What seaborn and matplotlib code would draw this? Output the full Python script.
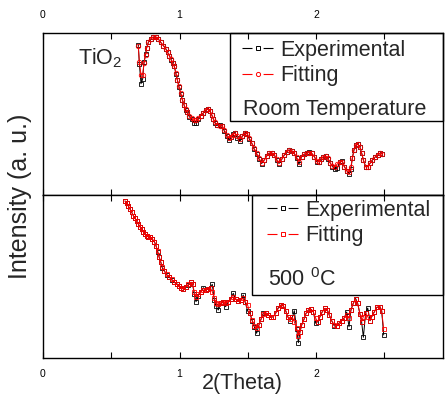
import matplotlib
matplotlib.use("Agg")
import matplotlib.pyplot as plt
import seaborn as sns
from matplotlib.patches import Rectangle
from matplotlib.lines import Line2D

# data (intensity in arbitrary units)
rt_x = [0.698, 0.706, 0.718, 0.730, 0.740, 0.752, 0.759, 0.772, 0.789, 0.808,
        0.828, 0.845, 0.862, 0.882, 0.899, 0.913, 0.926, 0.938, 0.950, 0.962,
        0.974, 0.984, 0.996, 1.009, 1.021, 1.033, 1.045, 1.057, 1.072, 1.089,
        1.106, 1.121, 1.138, 1.155, 1.175, 1.194, 1.211, 1.223, 1.236, 1.248,
        1.260, 1.277, 1.297, 1.314, 1.328, 1.346, 1.363, 1.375, 1.389, 1.407,
        1.424, 1.443, 1.460, 1.480, 1.497, 1.511, 1.529, 1.546,
        1.565, 1.582, 1.602, 1.621, 1.639, 1.656, 1.675, 1.695, 1.712, 1.729,
        1.749, 1.768, 1.785, 1.802, 1.822, 1.841, 1.858, 1.875, 1.895, 1.914,
        1.931, 1.949, 1.968, 1.988, 2.005, 2.022, 2.037, 2.054, 2.071, 2.086,
        2.103, 2.120, 2.139, 2.156, 2.176, 2.193, 2.208, 2.225, 2.242, 2.256,
        2.266, 2.278, 2.291, 2.305, 2.322, 2.335, 2.347, 2.364, 2.379, 2.396,
        2.413, 2.432, 2.452, 2.469, 2.486]

rt_fit = [148.7, 132.7, 120.3, 120.3, 132.0, 140.3, 147.0, 152.7, 156.0, 158.0,
          158.0, 156.0, 152.7, 149.3, 146.0, 142.7, 139.3, 136.0, 132.0, 128.7,
          122.0, 115.3, 108.7, 102.0, 95.3, 90.3, 86.0, 82.7, 79.3, 77.0,
          74.7, 74.7, 77.0, 79.3, 82.0, 85.3, 86.0, 84.3, 80.3, 76.0,
          72.7, 70.3, 69.3, 68.7, 65.3, 60.3, 57.0, 58.0, 60.3, 62.0,
          58.7, 56.0, 58.7, 62.0, 61.0, 57.0, 52.0, 47.0,
          41.7, 36.7, 32.3, 35.0, 39.0, 41.7, 42.3, 40.0, 35.7, 32.3,
          35.7, 40.0, 43.3, 45.0, 44.3, 41.7, 37.7, 33.3, 38.3, 40.7,
          41.7, 42.3, 41.7, 38.3, 34.3, 33.3, 35.7, 38.3, 39.0, 36.7,
          32.3, 29.0, 28.3, 31.0, 33.3, 33.3, 28.3, 24.3, 23.3, 28.3,
          36.7, 45.0, 50.0, 51.0, 47.7, 41.7, 35.0, 28.3, 28.3, 31.7,
          35.0, 37.7, 40.0, 41.7, 41.0]

rt_exp = [150.3, 131.0, 111.3, 116.0, 133.0, 141.0, 147.0, 152.7, 156.0, 158.0,
          158.0, 156.0, 152.7, 149.3, 146.5, 142.7, 139.3, 135.5, 132.0, 128.7,
          121.0, 115.3, 108.0, 101.0, 95.3, 90.3, 85.0, 82.7, 78.3, 76.0,
          72.5, 72.0, 76.5, 79.3, 82.0, 85.3, 86.0, 84.3, 80.3, 76.0,
          72.0, 70.3, 70.0, 68.7, 64.0, 59.0, 54.7, 58.0, 61.0, 62.0,
          57.0, 53.7, 58.7, 62.5, 61.0, 56.0, 52.0, 46.0,
          41.0, 36.0, 31.5, 35.0, 39.0, 41.7, 42.3, 40.0, 35.0, 31.5,
          35.7, 40.0, 43.3, 45.0, 44.3, 41.7, 37.0, 30.7, 38.3, 40.7,
          42.0, 43.0, 41.7, 38.3, 33.5, 33.3, 36.5, 38.3, 39.0, 36.0,
          32.3, 28.5, 26.0, 27.0, 33.3, 34.0, 28.3, 24.3, 21.5, 26.0,
          36.7, 45.0, 50.0, 51.0, 47.7, 41.7, 35.0, 28.3, 28.3, 31.7,
          35.0, 37.7, 40.0, 41.7, 41.0]

ht_x = [0.601, 0.613, 0.625, 0.637, 0.650, 0.662, 0.674, 0.686, 0.698, 0.710,
        0.723, 0.735, 0.747, 0.760, 0.772, 0.784, 0.801, 0.816, 0.828, 0.840,
        0.850, 0.862, 0.874, 0.889, 0.906, 0.923, 0.943, 0.962, 0.979, 0.996,
        1.011, 1.028, 1.045, 1.065, 1.084, 1.096, 1.108, 1.121, 1.138, 1.155,
        1.175, 1.192, 1.211, 1.228, 1.240, 1.255, 1.267, 1.284, 1.304, 1.321,
        1.338, 1.357, 1.374, 1.394, 1.411, 1.431, 1.450, 1.467,
        1.480, 1.499, 1.516, 1.533, 1.548, 1.565, 1.582, 1.597, 1.614, 1.631,
        1.651, 1.670, 1.687, 1.704, 1.724, 1.744, 1.761, 1.778, 1.793, 1.810,
        1.827, 1.841, 1.858, 1.871, 1.883, 1.895, 1.912, 1.927, 1.944, 1.963,
        1.980, 1.998, 2.012, 2.029, 2.046, 2.066, 2.083, 2.097, 2.115, 2.134,
        2.151, 2.168, 2.188, 2.205, 2.225, 2.242, 2.256, 2.273, 2.290, 2.305,
        2.322, 2.334, 2.347, 2.364, 2.379, 2.396, 2.408, 2.428, 2.445, 2.469,
        2.481, 2.496]

ht_fit = [157.0, 154.7, 152.0, 149.0, 145.7, 142.3, 139.7, 137.0, 134.3, 131.3,
          128.7, 126.3, 123.7, 122.3, 121.3, 120.7, 119.0, 116.3, 112.3, 107.0,
          101.3, 96.3, 91.3, 87.0, 83.7, 81.3, 79.0, 75.7, 73.7, 72.3,
          70.3, 69.0, 71.3, 73.7, 75.7, 73.7, 66.3, 61.3, 63.7, 66.3,
          68.0, 68.0, 69.0, 69.7, 66.3, 60.3, 54.7, 53.7, 54.7, 55.7,
          54.7, 56.3, 59.0, 61.3, 59.0, 57.0, 58.0, 59.7,
          56.3, 53.0, 44.7, 38.0, 32.0, 29.7, 33.0, 38.7, 44.0, 45.3,
          43.0, 40.7, 41.3, 44.7, 49.7, 53.0, 52.0, 47.3, 41.3, 38.7,
          40.7, 36.3, 29.7, 22.0, 26.3, 33.0, 38.7, 44.7, 48.0, 48.7,
          46.3, 39.7, 36.3, 41.3, 46.3, 49.7, 48.0, 43.0, 37.3, 33.0,
          32.0, 34.7, 37.3, 39.7, 43.0, 39.7, 48.0, 54.7, 58.7, 54.7,
          44.0, 36.3, 41.3, 45.3, 41.3, 37.3, 41.3, 46.3, 50.7, 51.3,
          47.3, 28.7]

ht_exp = [157.0, 154.7, 152.0, 149.0, 145.7, 142.3, 139.7, 137.0, 134.0, 131.3,
          128.7, 126.0, 123.7, 122.0, 121.0, 120.7, 118.5, 116.3, 112.3, 106.0,
          101.3, 96.3, 90.0, 87.0, 83.0, 81.3, 78.0, 75.7, 74.5, 72.3,
          70.3, 69.0, 71.3, 73.0, 75.7, 73.7, 64.0, 56.3, 62.5, 66.3,
          70.3, 68.0, 69.0, 70.5, 73.7, 58.0, 52.0, 48.0, 54.7, 55.7,
          51.3, 56.3, 59.0, 64.7, 59.0, 57.0, 58.0, 63.0,
          56.3, 47.0, 44.7, 37.0, 31.0, 24.7, 33.0, 38.7, 45.0, 45.3,
          43.0, 40.7, 41.3, 44.7, 50.5, 53.0, 52.0, 47.3, 41.3, 37.5,
          40.7, 47.3, 29.0, 15.3, 26.3, 33.0, 38.7, 44.7, 48.0, 48.7,
          46.3, 34.7, 36.3, 41.3, 46.3, 49.7, 48.0, 43.0, 37.3, 32.0,
          32.0, 34.7, 37.3, 39.7, 46.0, 31.3, 48.0, 54.7, 59.5, 54.7,
          44.0, 36.3, 20.7, 45.3, 50.0, 37.3, 41.3, 46.3, 50.7, 51.3,
          47.3, 23.0]

sns.set_style("ticks")
plt.rcParams['font.family'] = ['Liberation Sans', 'DejaVu Sans']
plt.rcParams['mathtext.fontset'] = 'custom'
plt.rcParams['mathtext.rm'] = 'Liberation Sans'
plt.rcParams['mathtext.it'] = 'Liberation Sans'

fig = plt.figure(figsize=(4.46, 3.94), dpi=100)
W, H = 446, 394
left, right = 43, 443
ax1 = fig.add_axes([left / W, 1 - 195 / H, (right - left) / W, 162 / H])
ax2 = fig.add_axes([left / W, 1 - 358 / H, (right - left) / W, 163 / H])

xmax = (right - left) / 136.5


def draw(ax, x, exp, fit, fit_marker):
    sns.lineplot(x=x, y=exp, ax=ax, sort=False, estimator=None, color='black',
                 linewidth=0.7, marker='s', markersize=3.2, markerfacecolor='none',
                 markeredgecolor='black', markeredgewidth=0.6)
    sns.lineplot(x=x, y=fit, ax=ax, sort=False, estimator=None, color='red',
                 linewidth=0.7, marker=fit_marker, markersize=3.2, markerfacecolor='none',
                 markeredgecolor='red', markeredgewidth=0.6)
    ax.set_xlim(0, xmax)
    ax.set_xticks([0, 1, 2])
    ax.set_xticks([0.5, 1.5, 2.5], minor=True)
    ax.set_yticks([])
    ax.set_xlabel("")
    ax.set_ylabel("")
    for s in ax.spines.values():
        s.set_visible(True)
        s.set_color('black')
        s.set_linewidth(1.0)
    ax.tick_params(axis='x', which='both', direction='in', top=True, bottom=True,
                   length=4, width=0.8, labelsize=7.5, colors='black')


draw(ax1, rt_x, rt_exp, rt_fit, 'o')
draw(ax2, ht_x, ht_exp, ht_fit, 's')
ax1.set_ylim(0, 162)
ax2.set_ylim(0, 163)

ax1.tick_params(axis='x', labeltop=True, labelbottom=False, pad=9)
ax2.tick_params(axis='x', labeltop=False, labelbottom=True, pad=8)


def handle(color, marker):
    # short line, gap, small open marker, gap, short line
    return Line2D([], [], color=color, linewidth=0.8, linestyle=(0, (9.0, 10.0)),
                  marker=marker, markersize=3, markerfacecolor='none',
                  markeredgecolor=color, markeredgewidth=0.7)


# legends
for ax, fit_marker, x0, y0, rect, extra, ex_xy in [
        (ax1, 'o', (242 - left) / 400, (195 - 40) / 162,
         ((230 - left) / 400, (195 - 120.7) / 162), "Room Temperature",
         ((243 - left) / 400, (195 - 110) / 162)),
        (ax2, 's', (267 - left) / 400, (358 - 200) / 163,
         ((251.7 - left) / 400, (358 - 295) / 163), "500 $^{0}$C",
         ((268 - left) / 400, (358 - 280) / 163))]:
    ax.legend([handle('black', 's'), handle('red', fit_marker)],
              ["Experimental", "Fitting"], loc='upper left',
              bbox_to_anchor=(x0, y0), frameon=False, fontsize=15.5,
              handlelength=1.45, handletextpad=0.33, labelspacing=0.2,
              borderpad=0, borderaxespad=0)
    ax.add_patch(Rectangle(rect, 1 - rect[0], 1 - rect[1], transform=ax.transAxes,
                           fill=False, edgecolor='black', linewidth=1.0,
                           clip_on=False, zorder=5))
    ax.text(ex_xy[0], ex_xy[1], extra, transform=ax.transAxes, fontsize=15.5,
            ha='left', va='center')

ax1.text((78 - left) / 400, (195 - 64) / 162, "TiO$_2$", transform=ax1.transAxes,
         fontsize=15.5, ha='left', va='baseline')

fig.text(20 / W, 1 - 196 / H, "Intensity (a. u.)", rotation=90, fontsize=18,
         ha='center', va='center')
fig.text(242 / W, 1 - 384 / H, "2(Theta)", fontsize=15.5, ha='center', va='center')

fig.savefig("out.png", dpi=100, facecolor='white')
